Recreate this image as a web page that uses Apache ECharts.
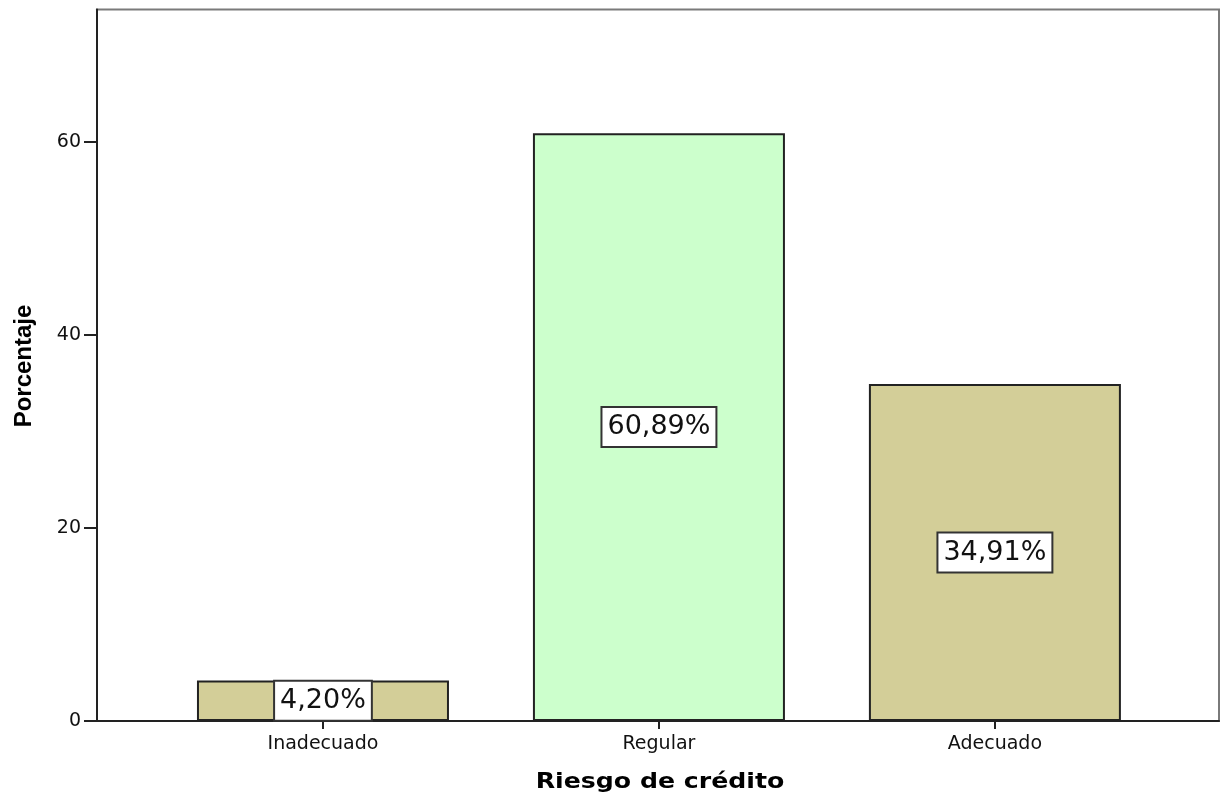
<!DOCTYPE html>
<html>
<head>
<meta charset="utf-8">
<script src="https://cdn.jsdelivr.net/npm/echarts@6/dist/echarts.min.js"></script>
<style>
  html, body { margin: 0; padding: 0; background: #fff; }
  #chart { width: 1221px; height: 796px; }
</style>
</head>
<body>
<div id="chart"></div>
<script>
// Riesgo de crédito: porcentaje por categoría
const categories = ['Inadecuado', 'Regular', 'Adecuado'];
const percentages = [4.20, 60.89, 34.91];
const barColors = ['#d3ce98', '#ccffcc', '#d3ce98'];
const yTicks = [0, 20, 40, 60];

const positions = categories.map((_, i) => i);
const seriesData = percentages.map((v, i) => ({
  value: [i, v],
  itemStyle: { color: barColors[i] }
}));

const chart = echarts.init(document.getElementById('chart'), null, { renderer: 'canvas' });

chart.setOption({
  animation: false,
  backgroundColor: '#ffffff',
  grid: {
    left: 97, right: 2, top: 9.5, bottom: 75,
    show: true, borderColor: '#7a7a7a', borderWidth: 2, backgroundColor: 'transparent'
  },
  xAxis: {
    type: 'value',
    min: -0.6726, max: 2.667,
    splitLine: { show: false },
    axisLine: { show: true, onZero: false, lineStyle: { color: '#222', width: 2 } },
    axisTick: { show: true, customValues: positions, length: 8, lineStyle: { color: '#222', width: 2 } },
    axisLabel: {
      customValues: positions,
      formatter: v => categories[Math.round(v)],
      fontFamily: 'DejaVu Sans', fontSize: 19, color: '#111', margin: 14
    }
  },
  yAxis: {
    type: 'value',
    min: 0, max: 73.7,
    splitLine: { show: false },
    axisLine: { show: true, onZero: false, lineStyle: { color: '#222', width: 2 } },
    axisTick: { show: true, customValues: yTicks, length: 13, lineStyle: { color: '#222', width: 2 } },
    axisLabel: {
      customValues: yTicks,
      fontFamily: 'DejaVu Sans', fontSize: 19, color: '#111', margin: 16
    }
  },
  series: [{
    type: 'bar',
    data: seriesData,
    barWidth: 252,
    itemStyle: { borderColor: '#222', borderWidth: 2 },
    label: {
      show: true,
      position: 'inside',
      formatter: p => p.value[1].toFixed(2).replace('.', ',') + '%',
      fontFamily: 'DejaVu Sans',
      fontSize: 27,
      color: '#111',
      backgroundColor: '#ffffff',
      borderColor: '#333',
      borderWidth: 2,
      padding: [6, 5, 5, 5]
    }
  }],
  graphic: [
    {
      type: 'text',
      x: 24, y: 366,
      rotation: Math.PI / 2,
      style: {
        text: 'Porcentaje',
        font: 'bold 24px "Liberation Sans"',
        fill: '#000',
        align: 'center', verticalAlign: 'middle',
        textAlign: 'center', textVerticalAlign: 'middle'
      }
    },
    {
      type: 'text',
      x: 660, y: 783,
      scaleX: 1.2,
      style: {
        text: 'Riesgo de crédito',
        font: 'bold 21px "DejaVu Sans"',
        fill: '#000',
        align: 'center', verticalAlign: 'middle',
        textAlign: 'center', textVerticalAlign: 'middle'
      }
    }
  ]
});
</script>
</body>
</html>
